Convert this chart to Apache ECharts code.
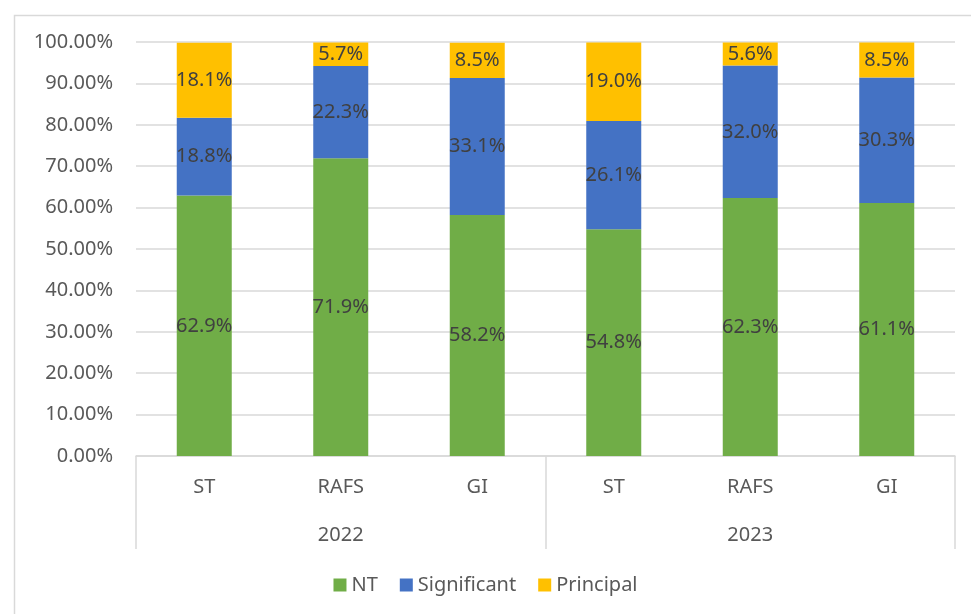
<!DOCTYPE html>
<html>
<head>
<meta charset="utf-8">
<script src="https://cdn.jsdelivr.net/npm/echarts@6/dist/echarts.min.js"></script>
<style>
html,body{margin:0;padding:0;background:#fff;}
#chart{width:971px;height:614px;}
</style>
</head>
<body>
<div id="chart"></div>
<script>
var categories = ['ST', 'RAFS', 'GI', 'ST', 'RAFS', 'GI'];
var years = ['2022', '2023'];
var seriesNames = ['NT', 'Significant', 'Principal'];
var ntValues = [62.9, 71.9, 58.2, 54.8, 62.3, 61.1];
var significantValues = [18.8, 22.3, 33.1, 26.1, 32.0, 30.3];
var principalValues = [18.1, 5.7, 8.5, 19.0, 5.6, 8.5];
var colors = ['#70AD47', '#4472C4', '#FFC000'];

var FONT = '"Noto Sans", "Open Sans", sans-serif';
var chart = echarts.init(document.getElementById('chart'), null, {renderer: 'canvas'});

function mkSeries(name, data, color) {
  return {
    name: name,
    type: 'bar',
    stack: 'total',
    data: data,
    barWidth: 55,
    itemStyle: {color: color},
    label: {
      show: true,
      position: 'inside',
      formatter: function (p) { return p.value.toFixed(1) + '%'; },
      color: '#404040',
      fontSize: 20,
      fontFamily: FONT
    },
    emphasis: {disabled: true}
  };
}

var option = {
  animation: false,
  textStyle: {fontFamily: FONT},
  graphic: [{
    type: 'rect',
    left: 12, top: 13,
    shape: {width: 1000, height: 700},
    style: {fill: 'none', stroke: '#d9d9d9', lineWidth: 1.5},
    silent: true
  }],
  grid: {left: 136, right: 16, top: 42, bottom: 158, containLabel: false},
  legend: {
    bottom: 14,
    left: 'center',
    icon: 'rect',
    itemWidth: 13,
    itemHeight: 13,
    itemGap: 22,
    textStyle: {color: '#595959', fontSize: 20, fontFamily: FONT},
    data: seriesNames
  },
  xAxis: [{
    type: 'category',
    data: categories,
    position: 'bottom',
    axisLine: {lineStyle: {color: '#d9d9d9', width: 1.5}},
    axisTick: {show: false},
    axisLabel: {color: '#595959', fontSize: 20, fontFamily: FONT, margin: 21}
  }, {
    type: 'category',
    data: years,
    position: 'bottom',
    offset: 93,
    axisLine: {show: false},
    axisTick: {show: true, inside: true, length: 93, lineStyle: {color: '#d9d9d9', width: 1.5}},
    axisLabel: {inside: true, color: '#595959', fontSize: 20, fontFamily: FONT, margin: 4}
  }],
  yAxis: {
    type: 'value',
    min: 0,
    max: 100,
    interval: 10,
    axisLine: {show: false},
    axisTick: {show: false},
    splitLine: {lineStyle: {color: '#d9d9d9', width: 1.5}},
    axisLabel: {
      color: '#595959', fontSize: 20, fontFamily: FONT, margin: 23,
      formatter: function (v) { return v.toFixed(2) + '%'; }
    }
  },
  series: [
    mkSeries(seriesNames[0], ntValues, colors[0]),
    mkSeries(seriesNames[1], significantValues, colors[1]),
    mkSeries(seriesNames[2], principalValues, colors[2])
  ]
};
chart.setOption(option);
</script>
</body>
</html>
